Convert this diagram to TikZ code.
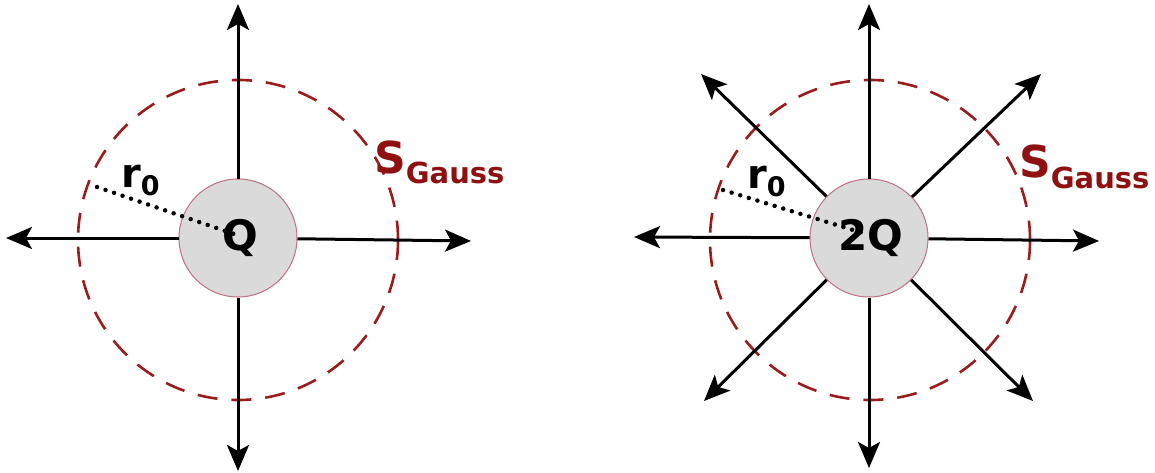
\documentclass[tikz,border=0pt]{standalone}
\usepackage{fontspec}
\setmainfont{DejaVu Sans}
\usetikzlibrary{arrows.meta}
\definecolor{gred}{HTML}{9B1C1C}
\definecolor{slabel}{HTML}{8E1010}
\definecolor{qfill}{HTML}{DADADA}
\definecolor{qedge}{HTML}{C07080}
\begin{document}
\begin{tikzpicture}[x=1pt,y=-1pt,
  field/.style={line width=3pt,-{Stealth[length=26pt,width=22pt,inset=6pt]}},
  charge/.style={circle,fill=qfill,draw=qedge,line width=1pt,minimum size=118pt,inner sep=0pt},
  gauss/.style={draw=gred,line width=2.6pt,dash pattern=on 20pt off 14pt},
  rline/.style={line width=4.5pt,line cap=round,dash pattern=on 0pt off 9pt},
  qlabel/.style={font=\bfseries\fontsize{42}{42}\selectfont,inner sep=0pt},
  rlabel/.style={anchor=base west,inner sep=0pt,font=\bfseries},
  slab/.style={anchor=base west,inner sep=0pt,text=slabel,font=\bfseries}]
\useasboundingbox (0,0) rectangle (1155,473);
% ---------- left: Q ----------
\draw[gauss] (238,240) circle[radius=160];
\node[charge] (q1) at (238,238) {};
\coordinate (u1) at (238,4);
\coordinate (d1) at (238,471);
\coordinate (l1) at (6,238);
\coordinate (r1) at (471,241);
\draw[field] (q1) -- (u1);
\draw[field] (q1) -- (d1);
\draw[field] (q1) -- (l1);
\draw[field] (q1) -- (r1);
\coordinate (rs1) at (97,187);
\coordinate (re1) at (237,235);
\draw[rline] (rs1) -- (re1);
\node[qlabel] (Q1) at (240,238) {Q};
\node[rlabel] (r01) at (121,187) {\fontsize{40}{40}\selectfont r\raisebox{-8pt}{\fontsize{27}{27}\selectfont 0}};
\node[slab] (s1) at (374,173) {\fontsize{44}{44}\selectfont S\raisebox{-10pt}{\fontsize{29}{29}\selectfont Gauss}};
% ---------- right: 2Q ----------
\draw[gauss] (870,240) circle[radius=160];
\node[charge] (q2) at (869,238) {};
\coordinate (u2) at (869,4);
\coordinate (d2) at (869,468);
\coordinate (l2) at (634,237);
\coordinate (r2) at (1099,241);
\coordinate (ul2) at (701,74);
\coordinate (ur2) at (1041,74);
\coordinate (dl2) at (704,401);
\coordinate (dr2) at (1033,401);
\draw[field] (q2) -- (u2);
\draw[field] (q2) -- (d2);
\draw[field] (q2) -- (l2);
\draw[field] (q2) -- (r2);
\draw[field] (q2) -- (ul2);
\draw[field] (q2) -- (ur2);
\draw[field] (q2) -- (dl2);
\draw[field] (q2) -- (dr2);
\coordinate (rs2) at (723,190);
\coordinate (re2) at (866,234);
\draw[rline] (rs2) -- (re2);
\node[qlabel] (Q2) at (871,238) {2Q};
\node[rlabel] (r02) at (747,189) {\fontsize{40}{40}\selectfont r\raisebox{-8pt}{\fontsize{27}{27}\selectfont 0}};
\node[slab] (s2) at (1019,178) {\fontsize{44}{44}\selectfont S\raisebox{-10pt}{\fontsize{29}{29}\selectfont Gauss}};
\end{tikzpicture}
\end{document}
